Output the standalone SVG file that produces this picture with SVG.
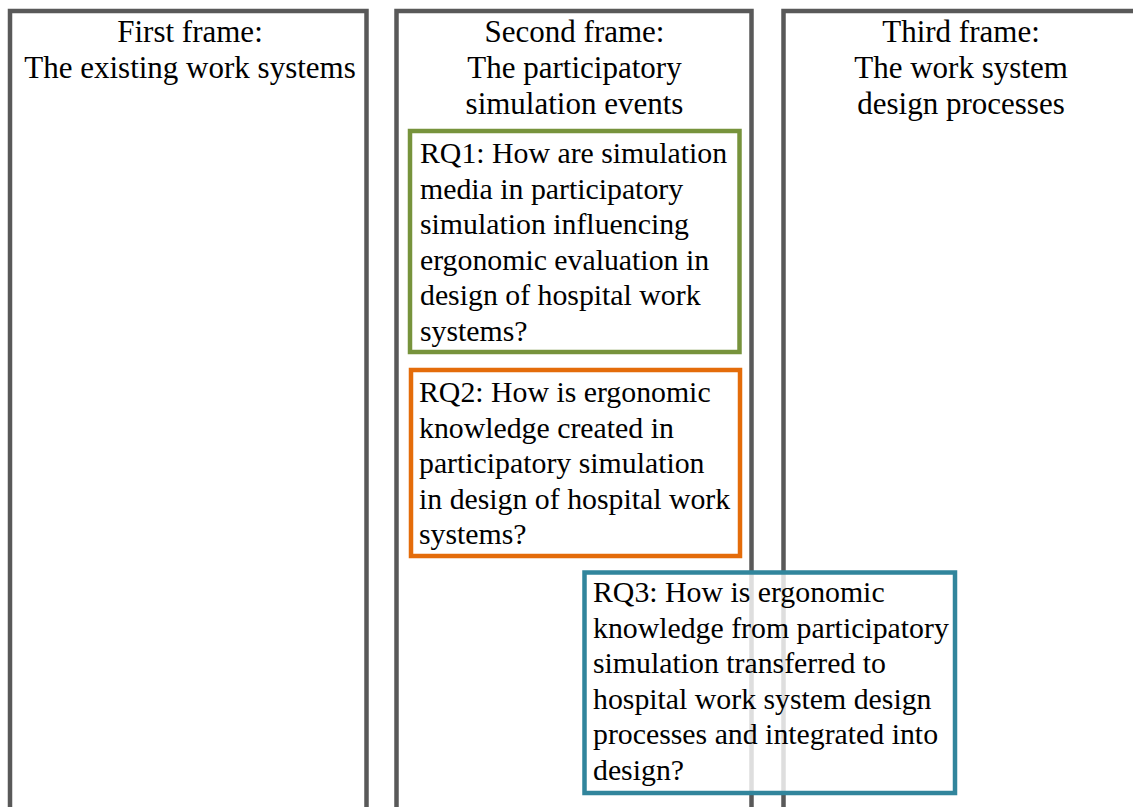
<svg xmlns="http://www.w3.org/2000/svg" width="1133" height="807" viewBox="0 0 1133 807">
  <style>
    .frame { fill: #ffffff; stroke: #595959; stroke-width: 4.5; }
    .rq { stroke-width: 4.5; }
    .rq1 { fill: #ffffff; stroke: #77933c; }
    .rq2 { fill: #ffffff; stroke: #e46c0a; }
    .rq3 { fill: #ffffff; fill-opacity: 0.8; stroke: #31859c; }
    text { font-family: "Liberation Serif", "Times New Roman", serif; fill: #000000; }
    .title { font-size: 31px; text-anchor: middle; }
    .q { font-size: 29.8px; }
  </style>
  <rect width="1133" height="807" fill="#ffffff"/>

  <!-- Column frames (open past the bottom edge) -->
  <g id="frame-existing">
    <rect class="frame" x="10" y="11" width="356.5" height="820"/>
    <text class="title" x="190" y="42">First frame:</text>
    <text class="title" x="190" y="78">The existing work systems</text>
  </g>
  <g id="frame-simulation">
    <rect class="frame" x="396.5" y="11" width="355" height="820"/>
    <text class="title" x="574.5" y="42">Second frame:</text>
    <text class="title" x="574.5" y="78">The participatory</text>
    <text class="title" x="574.5" y="114">simulation events</text>
  </g>
  <g id="frame-design">
    <rect class="frame" x="783.5" y="11" width="355" height="820"/>
    <text class="title" x="961" y="42">Third frame:</text>
    <text class="title" x="961" y="78">The work system</text>
    <text class="title" x="961" y="114">design processes</text>
  </g>

  <!-- Research questions -->
  <g id="rq1">
    <rect class="rq rq1" x="410" y="131" width="329.5" height="221"/>
    <text class="q" x="420" y="163">RQ1: How are simulation</text>
    <text class="q" x="420" y="198.5">media in participatory</text>
    <text class="q" x="420" y="234">simulation influencing</text>
    <text class="q" x="420" y="269.5">ergonomic evaluation in</text>
    <text class="q" x="420" y="305">design of hospital work</text>
    <text class="q" x="420" y="340.5">systems?</text>
  </g>
  <g id="rq2">
    <rect class="rq rq2" x="411" y="370" width="329" height="186"/>
    <text class="q" x="419" y="402">RQ2: How is ergonomic</text>
    <text class="q" x="419" y="437.5">knowledge created in</text>
    <text class="q" x="419" y="473">participatory simulation</text>
    <text class="q" x="419" y="508.5">in design of hospital work</text>
    <text class="q" x="419" y="544">systems?</text>
  </g>
  <g id="rq3">
    <rect class="rq rq3" x="584.5" y="572.5" width="370.5" height="220.5"/>
    <text class="q" x="593" y="602">RQ3: How is ergonomic</text>
    <text class="q" x="593" y="637.5">knowledge from participatory</text>
    <text class="q" x="593" y="673">simulation transferred to</text>
    <text class="q" x="593" y="708.5">hospital work system design</text>
    <text class="q" x="593" y="744">processes and integrated into</text>
    <text class="q" x="593" y="779.5">design?</text>
  </g>
</svg>
